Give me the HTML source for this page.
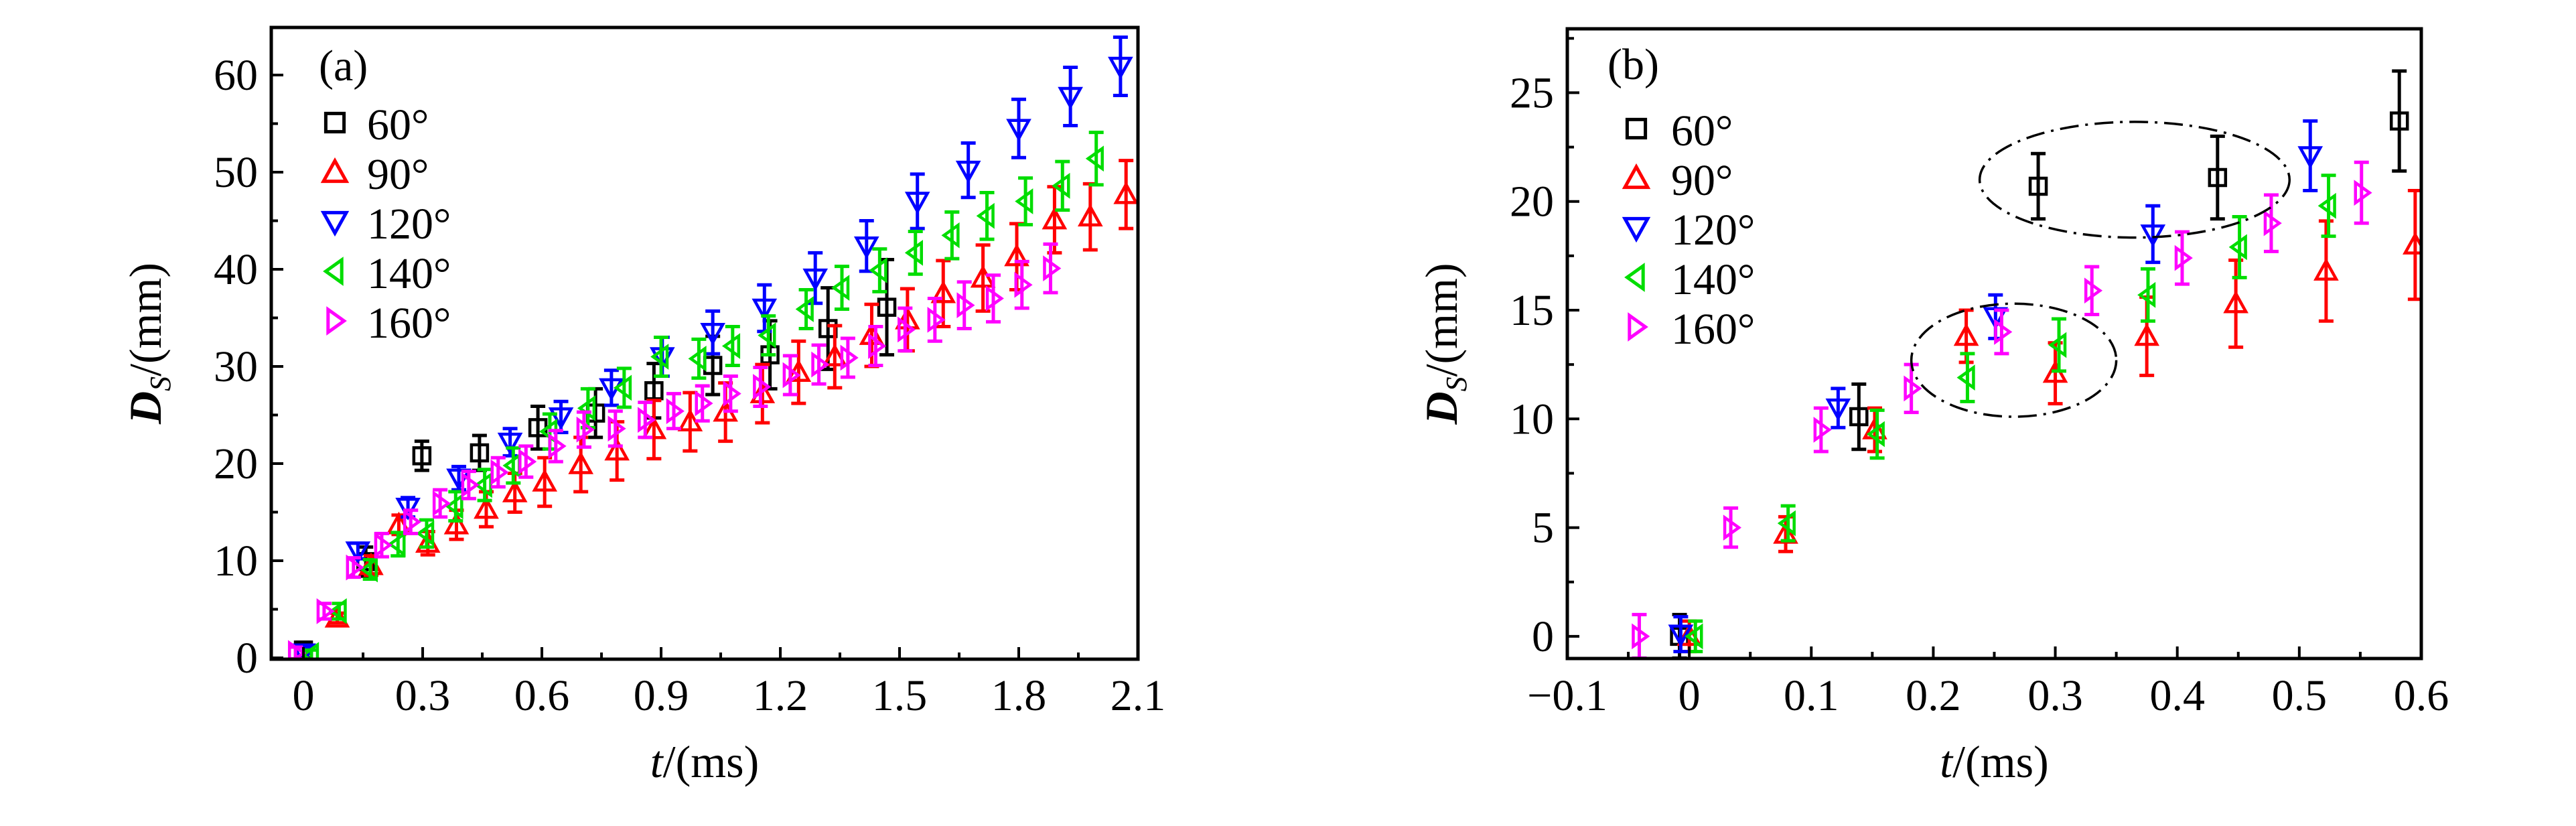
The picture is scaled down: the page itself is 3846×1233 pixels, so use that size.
<!DOCTYPE html>
<html><head><meta charset="utf-8"><style>
html,body{margin:0;padding:0;background:#fff}
svg{display:block}
text{font-family:"Liberation Serif",serif;fill:#000}
</style></head><body>
<svg id="chart" width="3846" height="1233" viewBox="0 0 3846 1233" xmlns="http://www.w3.org/2000/svg">
<defs>
<clipPath id="clipA"><rect x="405" y="41" width="1294" height="945"/></clipPath>
<clipPath id="clipB"><rect x="2340" y="43" width="1275" height="940"/></clipPath>
</defs>
<g id="gA"></g>
<g id="gB"></g>
</svg>
<script>
// ---------- Panel (a) data ----------
const aT60=[0.0,0.157,0.298,0.443,0.59,0.735,0.882,1.03,1.174,1.32,1.468];
const aD60=[0.8,9.9,20.8,21.1,23.7,25.2,27.5,30.1,31.2,33.9,36.1];
const aE60=[0.8,1.5,1.5,1.8,2.2,2.5,2.8,3.0,3.5,4.2,4.9];
const aT90=[0.085,0.17,0.24,0.313,0.385,0.46,0.532,0.607,0.698,0.789,0.882,0.973,1.062,1.155,1.246,1.337,1.43,1.52,1.61,1.71,1.795,1.89,1.98,2.07];
const aD90=[4.1,9.5,13.7,11.8,13.7,15.3,17.0,18.1,19.9,21.3,23.5,24.3,25.3,27.2,29.4,31.0,33.2,34.8,37.5,39.1,41.3,45.1,45.4,47.7];
const aE90=[0.5,1,1,1.2,1.5,1.8,2,2.5,2.8,3,3,3,3,3,3.2,3.2,3.2,3.2,3.4,3.4,3.4,3.4,3.4,3.5];
const aT120=[0.0,0.137,0.263,0.391,0.52,0.648,0.775,0.903,1.03,1.16,1.288,1.417,1.545,1.673,1.8,1.93,2.056];
const aD120=[0.5,11.0,15.5,18.5,22.2,24.8,27.8,31.0,33.5,36.0,39.1,42.4,47.0,50.2,54.5,57.8,60.9];
const aE120=[0.6,0.8,1,1.2,1.4,1.6,1.8,2,2.2,2.4,2.6,2.6,2.8,2.8,3,3,3];
const aT140=[0.02,0.09,0.168,0.238,0.31,0.383,0.456,0.528,0.62,0.716,0.807,0.9,0.995,1.08,1.17,1.265,1.355,1.45,1.54,1.632,1.72,1.817,1.91,1.995];
const aD140=[0.3,4.8,9.1,11.7,12.8,15.6,17.8,19.8,23.3,25.7,27.8,31.0,30.8,32.1,33.2,35.9,38.1,39.9,41.7,43.5,45.5,47.0,48.6,51.4];
const aE140=[0.5,0.8,1,1.2,1.4,1.5,1.6,1.8,1.8,2,2,2,2,2,2,2,2.2,2.2,2.2,2.4,2.4,2.4,2.5,2.7];
const aT160=[-0.02,0.052,0.126,0.197,0.27,0.344,0.416,0.49,0.56,0.635,0.706,0.785,0.86,0.932,1.004,1.075,1.15,1.225,1.297,1.37,1.44,1.514,1.589,1.663,1.736,1.808,1.88];
const aD160=[0.5,4.8,9.3,11.6,14.0,15.9,17.8,19.1,20.2,21.8,23.5,23.6,24.5,25.4,26.2,27.2,27.9,29.1,30.2,30.9,32.1,33.8,34.8,36.3,37.0,38.4,40.1];
const aE160=[0.6,0.8,1,1.2,1.2,1.4,1.4,1.5,1.6,1.6,1.8,1.8,1.8,1.8,1.8,1.8,2,2,2,2,2,2.2,2.2,2.4,2.4,2.4,2.5];
const aXTicks=[0,0.3,0.6,0.9,1.2,1.5,1.8,2.1];
const aXTickLabels=["0","0.3","0.6","0.9","1.2","1.5","1.8","2.1"];
const aYTicks=[0,10,20,30,40,50,60];
const aYTickLabels=["0","10","20","30","40","50","60"];
// ---------- Panel (b) data ----------
const bT60=[-0.008,0.139,0.286,0.433,0.582];
const bD60=[0,10.1,20.7,21.1,23.7];
const bE60=[1,1.5,1.5,1.9,2.3];
const bT90=[0,0.079,0.152,0.227,0.3,0.375,0.448,0.522,0.595];
const bD90=[0,4.7,9.5,13.8,12.1,13.8,15.3,16.8,18];
const bE90=[0.7,0.8,1,1.2,1.4,1.8,2,2.3,2.5];
const bT120=[-0.007,0.122,0.251,0.38,0.509];
const bD120=[0.1,10.5,14.7,18.5,22.1];
const bE120=[0.8,0.9,1,1.3,1.6];
const bT140=[0.005,0.081,0.154,0.228,0.303,0.376,0.451,0.524];
const bD140=[0,5.2,9.3,11.9,13.4,15.7,17.9,19.8];
const bE140=[0.7,0.8,1.1,1.1,1.2,1.2,1.4,1.4];
const bT160=[-0.041,0.034,0.108,0.182,0.256,0.33,0.404,0.477,0.551];
const bD160=[0,5.0,9.5,11.4,14.0,15.9,17.4,19.0,20.4];
const bE160=[1,0.9,1,1.1,1,1.1,1.2,1.3,1.4];
const bXTicks=[-0.1,0,0.1,0.2,0.3,0.4,0.5,0.6];
const bXTickLabels=["\u22120.1","0","0.1","0.2","0.3","0.4","0.5","0.6"];
const bYTicks=[0,5,10,15,20,25];
const bYTickLabels=["0","5","10","15","20","25"];
const ellipseCx=[0.365,0.266];
const ellipseCy=[21.0,12.7];
const ellipseRx=[0.127,0.084];
const ellipseRy=[2.66,2.6];

const NS="http://www.w3.org/2000/svg";
function mk(tag,attrs,parent){const e=document.createElementNS(NS,tag);for(const k in attrs)e.setAttribute(k,attrs[k]);parent.appendChild(e);return e;}
const COLORS={s60:"#000000",s90:"#ff0000",s120:"#0000ff",s140:"#00dd00",s160:"#ff00ff"};
function markerPath(type,cx,cy,s){
  const h=s/2;
  if(type==="sq") return `M${cx-h*0.8},${cy-h*0.8}h${s*0.8}v${s*0.8}h${-s*0.8}Z`;
  if(type==="up") return `M${cx},${cy-h}L${cx+h},${cy+h*0.8}L${cx-h},${cy+h*0.8}Z`;
  if(type==="down") return `M${cx},${cy+h}L${cx+h},${cy-h*0.8}L${cx-h},${cy-h*0.8}Z`;
  if(type==="left") return `M${cx-h*0.8},${cy}L${cx+h*0.6},${cy-h}L${cx+h*0.6},${cy+h}Z`;
  return `M${cx+h*0.8},${cy}L${cx-h*0.6},${cy-h}L${cx-h*0.6},${cy+h}Z`;
}
function drawPanel(g,cfg){
  const {x0,x1,y0,y1,xmin,xmax,ymin,ymax}=cfg;
  const sx=v=>x0+(v-xmin)/(xmax-xmin)*(x1-x0);
  const sy=v=>y1-(v-ymin)/(ymax-ymin)*(y1-y0);
  const data=mk('g',{'clip-path':`url(#${cfg.clip})`},g);
  
  
  cfg.series.forEach(s=>{
    const sg=mk('g',{},data);
    
    
    s.t.forEach((t,i)=>{
      const cx=sx(t),cy=sy(s.d[i]),ya=sy(s.d[i]+s.e[i]),yb=sy(s.d[i]-s.e[i]);
      const eb=mk('path',{d:`M${cx},${ya}V${yb}M${cx-11},${ya}H${cx+11}M${cx-11},${yb}H${cx+11}`,stroke:s.c,'stroke-width':5,fill:'none'},sg);
      
      
      const m=mk('path',{d:markerPath(s.m,cx,cy,30),stroke:s.c,'stroke-width':4.5,fill:'none'},sg);
      
      
    });
  });
  if(cfg.ellipses){
    cfg.ellipses.cx.forEach((c,i)=>{
      const el=mk('ellipse',{cx:sx(c),cy:sy(cfg.ellipses.cy[i]),rx:sx(c+cfg.ellipses.rx[i])-sx(c),ry:sy(cfg.ellipses.cy[i])-sy(cfg.ellipses.cy[i]+cfg.ellipses.ry[i]),fill:'none',stroke:'#000','stroke-width':3.5,'stroke-dasharray':'28,10,4,10'},g);
      
      
    });
  }
  const fr=mk('rect',{x:x0,y:y0,width:x1-x0,height:y1-y0,fill:'none',stroke:'#000','stroke-width':5},g);
  
  
  const ax=mk('g',{},g);
  
  
  cfg.xticks.forEach((v,i)=>{
    const x=sx(v);
    mk('line',{x1:x,x2:x,y1:y1,y2:y1-18,stroke:'#000','stroke-width':4},ax);
    const t=mk('text',{x:x,y:1060,'font-size':66,'text-anchor':'middle'},ax);
    t.textContent=cfg.xlabels[i];
    
    
    if(i<cfg.xticks.length-1){const xm=sx((v+cfg.xticks[i+1])/2);mk('line',{x1:xm,x2:xm,y1:y1,y2:y1-10,stroke:'#000','stroke-width':4},ax);}
  });
  const ay=mk('g',{},g);
  
  
  cfg.yticks.forEach((v,i)=>{
    const y=sy(v);
    mk('line',{x1:x0,x2:x0+18,y1:y,y2:y,stroke:'#000','stroke-width':4},ay);
    const t=mk('text',{x:x0-20,y:y+22,'font-size':66,'text-anchor':'end'},ay);
    t.textContent=cfg.ylabels[i];
    
    
    const ym=sy(v+cfg.minor);
    if(ym>y0) mk('line',{x1:x0,x2:x0+10,y1:ym,y2:ym,stroke:'#000','stroke-width':4},ay);
  });
  const xt=mk('text',{x:(x0+x1)/2,y:1160,'font-size':68,'text-anchor':'middle'},g);
  xt.innerHTML='<tspan font-style="italic">t</tspan>/(ms)';
  
  
  const yt=mk('text',{x:0,y:0,'font-size':68,'text-anchor':'middle',transform:`translate(${cfg.ytx},${(y0+y1)/2}) rotate(-90)`},g);
  yt.innerHTML='<tspan font-style="italic" font-weight="bold">D</tspan><tspan font-style="italic" font-size="44" dy="14">S</tspan><tspan dy="-14">/(mm)</tspan>';
  
  
  const pl=mk('text',{x:cfg.px,y:cfg.py,'font-size':66},g);
  pl.textContent=cfg.panel;
  
  
  const lg=mk('g',{},g);
  
  
  cfg.series.forEach((s,i)=>{
    const y=cfg.ly0+i*cfg.ldy;
    const en=mk('g',{},lg);
    
    
    mk('path',{d:markerPath(s.m,cfg.lx,y,34),stroke:s.c,'stroke-width':5,fill:'none'},en);
    const t=mk('text',{x:cfg.tx,y:y+25,'font-size':66},en);
    t.textContent=s.name+'\u00b0';
  });
}
drawPanel(document.getElementById('gA'),{x0:405,x1:1699,y0:41,y1:984,xmin:-0.081,xmax:2.1,ymin:-0.14,ymax:64.9,clip:'clipA',
  xticks:aXTicks,xlabels:aXTickLabels,yticks:aYTicks,ylabels:aYTickLabels,minor:5,ytx:240,panel:'(a)',px:476,py:120,lx:500,tx:548,ly0:183,ldy:74,
  series:[{name:'60',t:aT60,d:aD60,e:aE60,c:COLORS.s60,m:'sq'},{name:'90',t:aT90,d:aD90,e:aE90,c:COLORS.s90,m:'up'},
  {name:'120',t:aT120,d:aD120,e:aE120,c:COLORS.s120,m:'down'},{name:'140',t:aT140,d:aD140,e:aE140,c:COLORS.s140,m:'left'},
  {name:'160',t:aT160,d:aD160,e:aE160,c:COLORS.s160,m:'right'}]});
drawPanel(document.getElementById('gB'),{x0:2340,x1:3615,y0:43,y1:983,xmin:-0.1,xmax:0.6,ymin:-1.02,ymax:27.94,clip:'clipB',
  xticks:bXTicks,xlabels:bXTickLabels,yticks:bYTicks,ylabels:bYTickLabels,minor:2.5,ytx:2175,panel:'(b)',px:2400,py:118,lx:2443,tx:2495,ly0:192,ldy:74,
  ellipses:{cx:ellipseCx,cy:ellipseCy,rx:ellipseRx,ry:ellipseRy},
  series:[{name:'60',t:bT60,d:bD60,e:bE60,c:COLORS.s60,m:'sq'},{name:'90',t:bT90,d:bD90,e:bE90,c:COLORS.s90,m:'up'},
  {name:'120',t:bT120,d:bD120,e:bE120,c:COLORS.s120,m:'down'},{name:'140',t:bT140,d:bD140,e:bE140,c:COLORS.s140,m:'left'},
  {name:'160',t:bT160,d:bD160,e:bE160,c:COLORS.s160,m:'right'}]});
</script>
</body></html>
